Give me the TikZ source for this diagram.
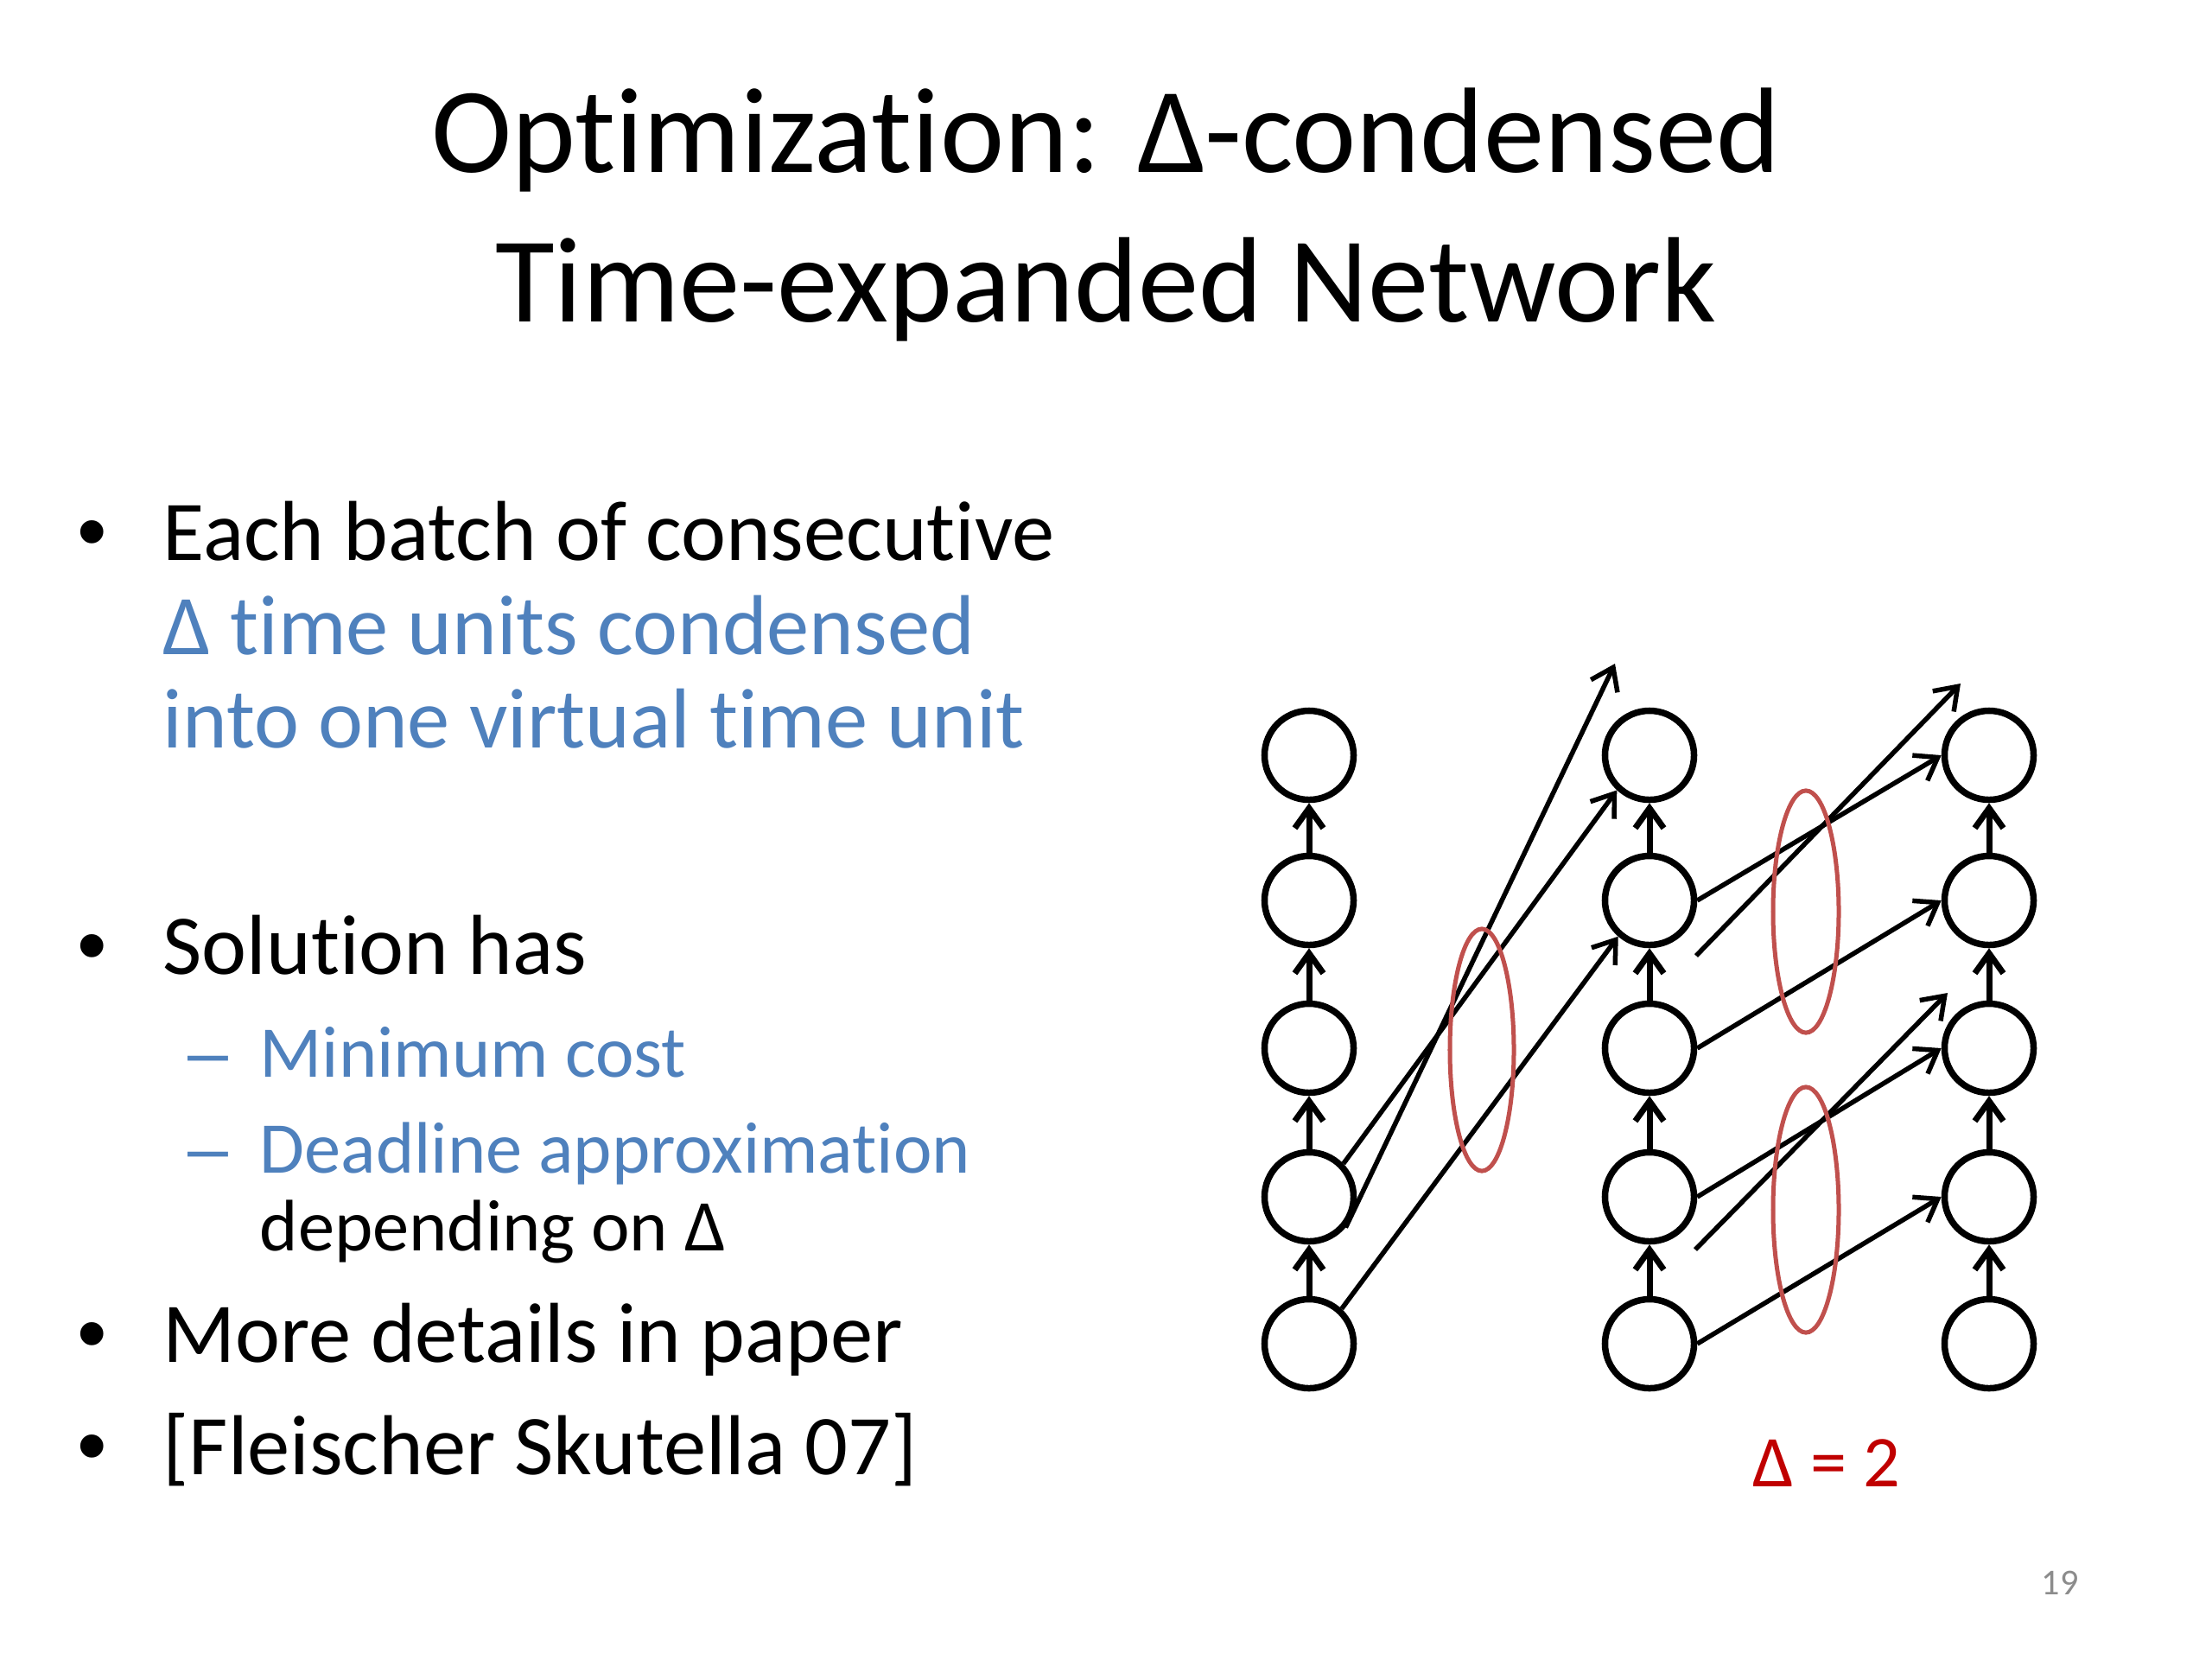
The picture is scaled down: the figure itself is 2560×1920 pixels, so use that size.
\documentclass[tikz,border=0pt]{standalone}
\usepackage{fontspec}
\setmainfont{Carlito}[Ligatures=NoCommon]
\newfontfamily\bulletfont{Liberation Sans}
\usetikzlibrary{arrows.meta}
\definecolor{slideblue}{HTML}{4F81BD}
\definecolor{ovalred}{HTML}{C0504D}
\definecolor{deltared}{HTML}{C00000}
\definecolor{pagegrey}{HTML}{8C8C8C}
\tikzset{
  tnode/.style={circle,draw,line width=0.75mm,minimum size=10.3mm,inner sep=0pt},
  hold/.style={line width=0.7mm,-{Straight Barb[length=2.3mm,width=3.3mm]}},
  move/.style={line width=0.55mm,-{Straight Barb[length=2.4mm,width=3.4mm]}},
  batch/.style={draw=ovalred,line width=0.5mm},
  headline/.style={anchor=base,inner sep=0pt,font=\fontsize{40}{48}\selectfont},
  txt/.style={anchor=base west,inner sep=0pt,font=\fontsize{28}{34}\selectfont},
  subtxt/.style={anchor=base west,inner sep=0pt,font=\fontsize{24}{29}\selectfont},
  bulletdot/.style={anchor=base,inner sep=0pt,font=\bulletfont\fontsize{28}{34}\selectfont},
  subdash/.style={anchor=base,inner sep=0pt,text=slideblue,font=\bulletfont\fontsize{24}{29}\selectfont},
}
\begin{document}
\begin{tikzpicture}[x=0.01cm,y=-0.01cm]
\useasboundingbox (0,0) rectangle (2560,1920);
% title
\node[headline] (head1) at (1280,199) {Optimization: Δ-condensed};
\node[headline] (head2) at (1280,372) {Time-expanded Network};
% bullets
\node[bulletdot] (b1) at (107,648) {•};
\node[txt] (t1) at (188,648) {Each batch of consecutive};
\node[txt,text=slideblue] (t2) at (188,757) {Δ time units condensed};
\node[txt,text=slideblue] (t3) at (188,865) {into one virtual time unit};
\node[bulletdot] (b2) at (107,1127) {•};
\node[txt] (t4) at (188,1127) {Solution has};
\node[subdash] (d1) at (241,1246) {–};
\node[subtxt,text=slideblue] (t5) at (300,1246) {Minimum cost};
\node[subdash] (d2) at (241,1357) {–};
\node[subtxt,text=slideblue] (t6) at (300,1357) {Deadline approximation};
\node[subtxt] (t7) at (300,1447) {depending on Δ};
\node[bulletdot] (b3) at (107,1576) {•};
\node[txt] (t8) at (188,1576) {More details in paper};
\node[bulletdot] (b4) at (107,1706) {•};
\node[txt] (t9) at (188,1706) {[Fleischer Skutella 07]};
% time-expanded nodes
\node[tnode] (l1) at (1515,874) {};
\node[tnode] (l2) at (1515,1042) {};
\node[tnode] (l3) at (1515,1213) {};
\node[tnode] (l4) at (1515,1385) {};
\node[tnode] (l5) at (1515,1555) {};
\node[tnode] (m1) at (1909,874) {};
\node[tnode] (m2) at (1909,1042) {};
\node[tnode] (m3) at (1909,1213) {};
\node[tnode] (m4) at (1909,1385) {};
\node[tnode] (m5) at (1909,1555) {};
\node[tnode] (r1) at (2302,874) {};
\node[tnode] (r2) at (2302,1042) {};
\node[tnode] (r3) at (2302,1213) {};
\node[tnode] (r4) at (2302,1385) {};
\node[tnode] (r5) at (2302,1555) {};
% holdover arcs
\draw[hold] (l5) -- (l4);
\draw[hold] (l4) -- (l3);
\draw[hold] (l3) -- (l2);
\draw[hold] (l2) -- (l1);
\draw[hold] (m5) -- (m4);
\draw[hold] (m4) -- (m3);
\draw[hold] (m3) -- (m2);
\draw[hold] (m2) -- (m1);
\draw[hold] (r5) -- (r4);
\draw[hold] (r4) -- (r3);
\draw[hold] (r3) -- (r2);
\draw[hold] (r2) -- (r1);
% transit arcs
\coordinate (lout) at (1869,768);
\draw[move] (l4.44) -- (m1.227);
\draw[move] (l4.-40) -- (lout);
\draw[move] (l5.47) -- (m2.229);
\coordinate (min1) at (1963,1106);
\coordinate (mout1) at (2269,791);
\coordinate (min2) at (1962,1446);
\coordinate (mout2) at (2254,1149);
\draw[move] (m2.east) -- (r1.west);
\draw[move] (min1) -- (mout1);
\draw[move] (m3.east) -- (r2.west);
\draw[move] (m4.east) -- (r3.west);
\draw[move] (min2) -- (mout2);
\draw[move] (m5.east) -- (r4.west);
% condensed batches
\draw[batch] (1715,1215) ellipse [x radius=0.37cm,y radius=1.4cm];
\draw[batch] (2090,1055) ellipse [x radius=0.38cm,y radius=1.4cm];
\draw[batch] (2090,1400) ellipse [x radius=0.38cm,y radius=1.42cm];
\node[txt,text=deltared,font=\fontsize{24}{29}\selectfont] (dlabel) at (2028,1720) {Δ = 2};
\node[anchor=base,inner sep=0pt,text=pagegrey,font=\fontsize{12}{14}\selectfont] (pnum) at (2384,1845) {19};
\end{tikzpicture}
\end{document}
